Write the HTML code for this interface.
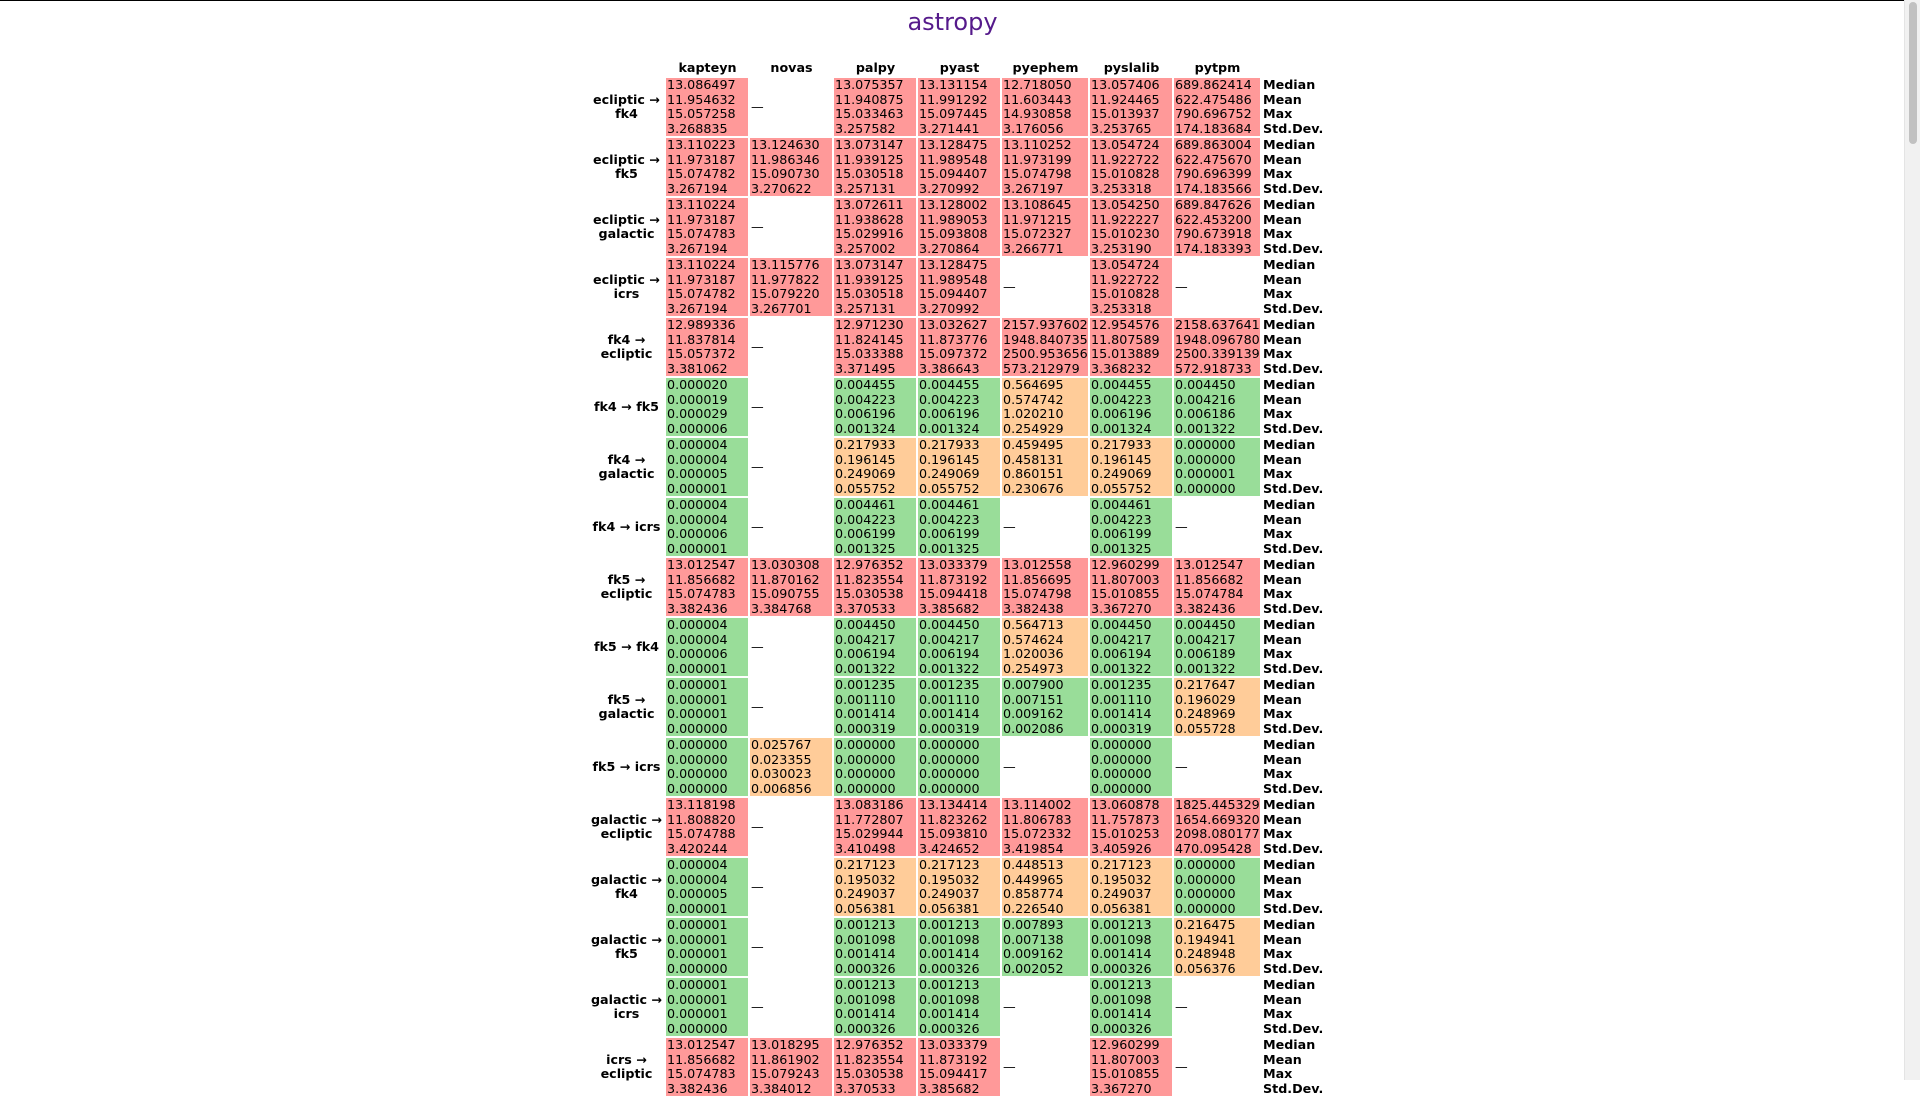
<!DOCTYPE html>
<html><head><meta charset="utf-8">
<style>
html,body{margin:0;padding:0;width:1920px;height:1080px;overflow:hidden;background:#fff;font-family:"DejaVu Sans","Liberation Sans",sans-serif;}
#topline{position:absolute;left:0;top:0;width:1904px;height:1px;background:#000;}
#title{position:absolute;left:0;top:5px;width:1905px;text-align:center;font-size:24px;line-height:34px;color:#551a8b;}
#tbl{position:absolute;left:586px;top:58px;border-collapse:separate;border-spacing:2px;table-layout:fixed;font-size:12.7px;}
#tbl td,#tbl th{padding:0 0 0 1px;line-height:14.5px;white-space:nowrap;vertical-align:middle;overflow:visible;}
#tbl th{font-weight:bold;text-align:center;height:16px;line-height:16px;}
td.lab{font-weight:bold;text-align:center;}
td.st{font-weight:bold;text-align:left;}
td.r{background:#ff9999;} td.g{background:#99dd99;} td.o{background:#ffcc99;}
td.dash{text-align:left;padding-left:1px;}
#sb{position:absolute;left:1904px;top:0;width:16px;height:1080px;background:#f1f1f1;border-left:1px solid #e4e4e4;box-sizing:border-box;}
#thumb{position:absolute;left:4px;top:2px;width:8px;height:142px;background:#c1c1c1;border-radius:4px;}
</style></head>
<body>
<div id="topline"></div>
<div id="title">astropy</div>
<table id="tbl">
<colgroup><col style="width:76px"><col style="width:82px"><col style="width:82px"><col style="width:82px"><col style="width:82px"><col style="width:86px"><col style="width:82px"><col style="width:86px"><col style="width:62px"></colgroup>
<thead><tr>
<th></th>
<th>kapteyn</th>
<th>novas</th>
<th>palpy</th>
<th>pyast</th>
<th>pyephem</th>
<th>pyslalib</th>
<th>pytpm</th>
<th></th>
</tr></thead>
<tbody id="body"></tbody>
</table>
<div id="sb"><div id="thumb"></div></div>
<script>
const libraries=["kapteyn","novas","palpy","pyast","pyephem","pyslalib","pytpm"];
const statNames=["Median","Mean","Max","Std.Dev."];
const transforms=[["ecliptic","fk4"],["ecliptic","fk5"],["ecliptic","galactic"],["ecliptic","icrs"],["fk4","ecliptic"],["fk4","fk5"],["fk4","galactic"],["fk4","icrs"],["fk5","ecliptic"],["fk5","fk4"],["fk5","galactic"],["fk5","icrs"],["galactic","ecliptic"],["galactic","fk4"],["galactic","fk5"],["galactic","icrs"],["icrs","ecliptic"]];
const Z=[0,0,0,0];
const values=[
[[13.086497,11.954632,15.057258,3.268835],null,[13.075357,11.940875,15.033463,3.257582],[13.131154,11.991292,15.097445,3.271441],[12.718050,11.603443,14.930858,3.176056],[13.057406,11.924465,15.013937,3.253765],[689.862414,622.475486,790.696752,174.183684]],
[[13.110223,11.973187,15.074782,3.267194],[13.124630,11.986346,15.090730,3.270622],[13.073147,11.939125,15.030518,3.257131],[13.128475,11.989548,15.094407,3.270992],[13.110252,11.973199,15.074798,3.267197],[13.054724,11.922722,15.010828,3.253318],[689.863004,622.475670,790.696399,174.183566]],
[[13.110224,11.973187,15.074783,3.267194],null,[13.072611,11.938628,15.029916,3.257002],[13.128002,11.989053,15.093808,3.270864],[13.108645,11.971215,15.072327,3.266771],[13.054250,11.922227,15.010230,3.253190],[689.847626,622.453200,790.673918,174.183393]],
[[13.110224,11.973187,15.074782,3.267194],[13.115776,11.977822,15.079220,3.267701],[13.073147,11.939125,15.030518,3.257131],[13.128475,11.989548,15.094407,3.270992],null,[13.054724,11.922722,15.010828,3.253318],null],
[[12.989336,11.837814,15.057372,3.381062],null,[12.971230,11.824145,15.033388,3.371495],[13.032627,11.873776,15.097372,3.386643],[2157.937602,1948.840735,2500.953656,573.212979],[12.954576,11.807589,15.013889,3.368232],[2158.637641,1948.096780,2500.339139,572.918733]],
[[0.000020,0.000019,0.000029,0.000006],null,[0.004455,0.004223,0.006196,0.001324],[0.004455,0.004223,0.006196,0.001324],[0.564695,0.574742,1.020210,0.254929],[0.004455,0.004223,0.006196,0.001324],[0.004450,0.004216,0.006186,0.001322]],
[[0.000004,0.000004,0.000005,0.000001],null,[0.217933,0.196145,0.249069,0.055752],[0.217933,0.196145,0.249069,0.055752],[0.459495,0.458131,0.860151,0.230676],[0.217933,0.196145,0.249069,0.055752],[0.000000,0.000000,0.000001,0.000000]],
[[0.000004,0.000004,0.000006,0.000001],null,[0.004461,0.004223,0.006199,0.001325],[0.004461,0.004223,0.006199,0.001325],null,[0.004461,0.004223,0.006199,0.001325],null],
[[13.012547,11.856682,15.074783,3.382436],[13.030308,11.870162,15.090755,3.384768],[12.976352,11.823554,15.030538,3.370533],[13.033379,11.873192,15.094418,3.385682],[13.012558,11.856695,15.074798,3.382438],[12.960299,11.807003,15.010855,3.367270],[13.012547,11.856682,15.074784,3.382436]],
[[0.000004,0.000004,0.000006,0.000001],null,[0.004450,0.004217,0.006194,0.001322],[0.004450,0.004217,0.006194,0.001322],[0.564713,0.574624,1.020036,0.254973],[0.004450,0.004217,0.006194,0.001322],[0.004450,0.004217,0.006189,0.001322]],
[[0.000001,0.000001,0.000001,0.000000],null,[0.001235,0.001110,0.001414,0.000319],[0.001235,0.001110,0.001414,0.000319],[0.007900,0.007151,0.009162,0.002086],[0.001235,0.001110,0.001414,0.000319],[0.217647,0.196029,0.248969,0.055728]],
[Z,[0.025767,0.023355,0.030023,0.006856],Z,Z,null,Z,null],
[[13.118198,11.808820,15.074788,3.420244],null,[13.083186,11.772807,15.029944,3.410498],[13.134414,11.823262,15.093810,3.424652],[13.114002,11.806783,15.072332,3.419854],[13.060878,11.757873,15.010253,3.405926],[1825.445329,1654.669320,2098.080177,470.095428]],
[[0.000004,0.000004,0.000005,0.000001],null,[0.217123,0.195032,0.249037,0.056381],[0.217123,0.195032,0.249037,0.056381],[0.448513,0.449965,0.858774,0.226540],[0.217123,0.195032,0.249037,0.056381],[0.000000,0.000000,0.000000,0.000000]],
[[0.000001,0.000001,0.000001,0.000000],null,[0.001213,0.001098,0.001414,0.000326],[0.001213,0.001098,0.001414,0.000326],[0.007893,0.007138,0.009162,0.002052],[0.001213,0.001098,0.001414,0.000326],[0.216475,0.194941,0.248948,0.056376]],
[[0.000001,0.000001,0.000001,0.000000],null,[0.001213,0.001098,0.001414,0.000326],[0.001213,0.001098,0.001414,0.000326],null,[0.001213,0.001098,0.001414,0.000326],null],
[[13.012547,11.856682,15.074783,3.382436],[13.018295,11.861902,15.079243,3.384012],[12.976352,11.823554,15.030538,3.370533],[13.033379,11.873192,15.094417,3.385682],null,[12.960299,11.807003,15.010855,3.367270],null]
];
function colorClass(median){return median>1?'r':(median>0.01?'o':'g');}
const body=document.getElementById('body');
transforms.forEach((t,i)=>{
  const tr=document.createElement('tr');
  
  
  const lab=document.createElement('td');
  lab.className='lab';
  
  
  const oneLine=(t[0].length+t[1].length)<=7;
  lab.innerHTML=oneLine?(t[0]+' → '+t[1]):(t[0]+' →<br>'+t[1]);
  tr.appendChild(lab);
  values[i].forEach((v,j)=>{
    const td=document.createElement('td');
    
    
    if(v===null){td.className='dash';td.textContent='—';}
    else{td.className=colorClass(v[0]);td.innerHTML=v.map(x=>x.toFixed(6)).join('<br>');}
    tr.appendChild(td);
  });
  const st=document.createElement('td');
  st.className='st';
  
  
  st.innerHTML=statNames.join('<br>');
  tr.appendChild(st);
  body.appendChild(tr);
});
</script>
</body></html>
